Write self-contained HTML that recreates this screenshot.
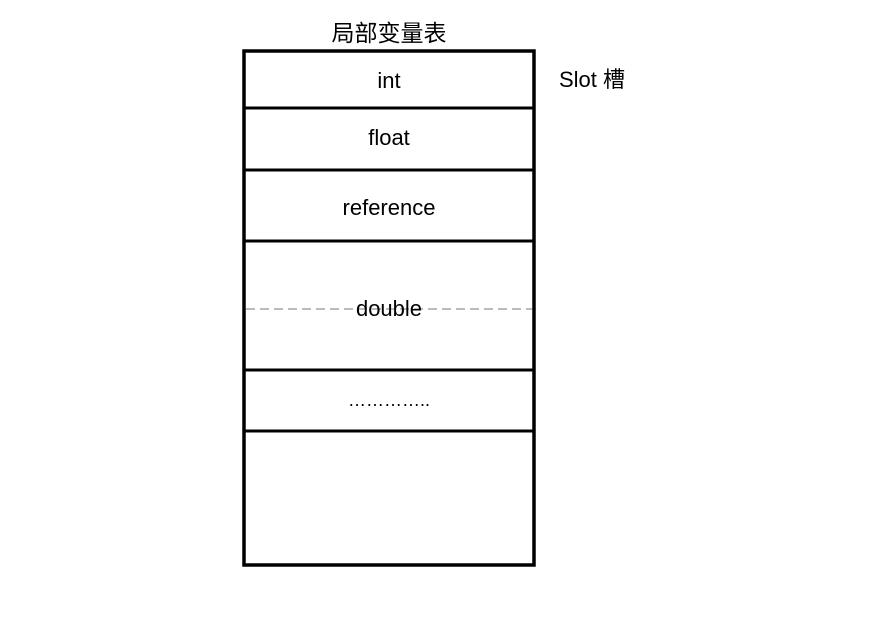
<!DOCTYPE html>
<html><head><meta charset="utf-8"><style>
html,body{margin:0;padding:0;background:#fff;}
svg{display:block;}
text{font-family:"Liberation Sans","Noto Sans CJK SC",sans-serif;fill:#000;}
</style></head><body>
<svg width="875" height="630" viewBox="0 0 875 630" xmlns="http://www.w3.org/2000/svg">
<rect x="0" y="0" width="875" height="630" fill="#fff"/>
<text x="389" y="41" font-size="23" text-anchor="middle">局部变量表</text>
<rect x="244" y="51" width="290" height="514" fill="none" stroke="#000" stroke-width="3.5"/>
<g stroke="#000" stroke-width="3">
<line x1="244" y1="108" x2="534" y2="108"/>
<line x1="244" y1="170" x2="534" y2="170"/>
<line x1="244" y1="241" x2="534" y2="241"/>
<line x1="244" y1="370" x2="534" y2="370"/>
<line x1="244" y1="431" x2="534" y2="431"/>
</g>
<line x1="246" y1="309" x2="532" y2="309" stroke="#777" stroke-width="1" stroke-dasharray="9,5"/>
<text x="389" y="88" font-size="22" text-anchor="middle">int</text>
<text x="389" y="145" font-size="22" text-anchor="middle">float</text>
<text x="389" y="215" font-size="22" text-anchor="middle">reference</text>
<text x="389" y="316" font-size="22" text-anchor="middle">double</text>
<text x="389" y="406" font-size="18" text-anchor="middle">…………..</text>
<text x="559" y="87" font-size="22">Slot 槽</text>
</svg>
</body></html>
